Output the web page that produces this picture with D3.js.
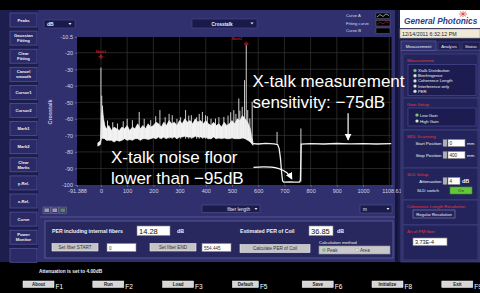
<!DOCTYPE html>
<html><head><meta charset="utf-8">
<script src="https://cdn.jsdelivr.net/npm/d3@7"></script>
<style>
html,body{margin:0;padding:0;background:#000;overflow:hidden;}
svg{display:block;font-family:"Liberation Sans",Arial,sans-serif;}
</style></head><body>
<div class="chart"></div>
<script>
// crosstalk trace (fiber length in m, level in dB)
const bandX   = [-12,-6,-2,2,6,10,15,20,30,40,50,60,70,80,90,100,110,120,130,140,150,160,170,180,190,200,210,220,230,240,250,260,270,280,290,300,310,320,330,340,350,360,370,380,390,400,410,420,430,440,450,460,470,480,490,500,510,520,530,540,550,560,570,575,580];
const bandTop = [-74.5,-74,-73,-58,-54,-60,-64,-66,-64,-67,-65,-66,-67,-65,-66,-64,-67,-65,-66,-63,-66,-64,-66,-63,-65,-64,-62,-63,-65,-62,-64,-61,-63,-62,-64,-61,-63,-60,-62,-61,-63,-60,-62,-61,-63,-61,-63,-64,-62,-64,-63,-65,-62,-64,-63,-61,-63,-60,-61,-58,-60,-62,-66,-71,-74];
const bandBot = [-76.5,-76,-75.5,-72,-71,-72,-72,-73,-73,-73,-74,-73,-73.5,-73,-72,-73,-72.5,-73,-72,-72,-73,-72,-72,-72.5,-72,-71.5,-72,-71,-72,-71,-72,-71,-71.5,-71,-72,-71,-71,-70.5,-71,-71,-71.5,-70.5,-71,-71,-71.5,-71,-72,-72,-71,-72,-71.5,-72,-71.5,-72,-72,-71.5,-72,-72,-72,-71.5,-72,-73,-74,-75,-76];
const spikeX    = [0,3,6,25,45,63,85,100,120,146,165,190,209,225,245,260,272,290,304,323,335,345,365,375,387,399,406,420,437,450,469,485,495,507,515,526,530,539,548,554.445,560,568,577,672,763];
const spikeTop  = [-29,-46,-52,-61,-62,-62.8,-61.5,-60,-60.8,-55.8,-60,-60.8,-58.4,-54.7,-59,-57,-57.8,-60,-59,-54.7,-58,-57.8,-59,-57,-55.8,-57.8,-58.4,-60,-59.8,-59,-58.8,-58,-56,-54.7,-57,-47.7,-55,-52.7,-36.6,-15.3,-54.7,-59.8,-49.7,-67.9,-65.8];
const spikeBase = [-72,-72,-72,-72,-72,-72,-72,-72,-72,-72,-72,-72,-72,-72,-72,-72,-72,-72,-72,-72,-72,-72,-72,-72,-72,-72,-72,-72,-72,-72,-72,-72,-72,-72,-72,-72,-72,-72,-72,-72,-72,-72,-74,-75,-98];
const tailX = [578,600,630,660,674,680,685,689,693,698,720,740,758,761,764,800,850,900,950,1000,1050,1108.61];
const tailY = [-75,-75.2,-74.8,-75.1,-75.5,-78,-84,-92,-97.5,-98.3,-98.2,-98.3,-98.2,-97,-75.3,-75,-75.2,-74.9,-75.1,-75,-75.2,-75];
const markX = [0, 554.445];
const markY = [-22.4, -14.7];
const markNames = ["Mark1", "Mark2"];
const markAnchor = ["middle", "end"];
const xTicks = [-91.388,0,100,200,300,400,500,600,700,800,900,1000,1108.61];
const xTickLabels = ["-91.388","0","100","200","300","400","500","600","700","800","900","1000","1108.61"];
const yTicks = [-10.5,-20,-30,-40,-50,-60,-70,-80,-90,-100];
const yTickLabels = ["-10.5","-20","-30","-40","-50","-60","-70","-80","-90","-100"];
const xGrid = [0,100,200,300,400,500,600,700,800,900,1000,1100];
const yGrid = [-20,-30,-40,-50,-60,-70,-80,-90];
const notes = ["X-talk measurement", "sensitivity: \u221275dB", "X-talk noise floor", "lower than \u221295dB"];
const noteX = [578, 578, 38, 38];
const noteY = [-40.8, -53.5, -86.9, -99.6];

const leftButtons = ["Peaks","Gaussian|Fitting","Clear|Fitting","Cancel|smooth","Cursor1","Cursor2","Mark1","Mark2","Clear|Marks","y-Rel.","x-Rel.","Curve","Power|Monitor",""];
const bottomButtons = ["About","Run","Load","Default","Save","Initialize","Exit"];
const bottomKeys = ["F1","F2","F3","F5","F6","F8","F9"];
const measOptions = ["Xtalk Distribution","Birefringence","Coherence Length","Interference only","PER"];
const gainOptions = ["Low Gain","High Gain"];

const W = 480, H = 293;
const svg = d3.select(".chart").append("svg").attr("width", W).attr("height", H);

function box(g, x, y, w, h, fill, stroke, sw) {
    return g.append("rect").attr("x", x).attr("y", y).attr("width", w).attr("height", h)
        .attr("fill", fill).attr("stroke", stroke || "none").attr("stroke-width", sw || 0.6);
}
function txt(g, x, y, s, o) {
    o = o || {};
    return g.append("text").attr("x", x).attr("y", y).text(s)
        .attr("font-size", o.size || 4.5)
        .attr("font-weight", o.weight || "bold")
        .attr("fill", o.fill || "#f2f2f8")
        .attr("text-anchor", o.anchor || "start")
        .attr("font-style", o.style || "normal");
}
function tri(g, cx, cy, s) {
    g.append("path").attr("d", `M${cx - s},${cy - s * 0.6}L${cx + s},${cy - s * 0.6}L${cx},${cy + s * 0.6}Z`).attr("fill", "#e6e6f0");
}
function radio(g, cx, cy, on) {
    g.append("circle").attr("cx", cx).attr("cy", cy).attr("r", 1.6)
        .attr("fill", on ? "#6fd16f" : "#e4e4ec").attr("stroke", "#777").attr("stroke-width", 0.3);
}

// background panels
box(svg, 0, 0, W, H, "#000");
box(svg, 0, 10, 38, 252, "#1e1e4e");
box(svg, 38, 10, 358, 252, "#30306e");
box(svg, 395, 10, 3, 252, "#15153c");
box(svg, 398, 10, 82, 252, "#1d1d4c");

// left button column
leftButtons.forEach((b, i) => {
    const cy = 20 + i * 18.1;
    box(svg, 10, cy - 7, 27, 14, "#2a2a66", "#5858a0", 0.7);
    const lines = b ? b.split("|") : [];
    lines.forEach((l, j) => {
        txt(svg, 23.5, cy + 1.6 + (j - (lines.length - 1) / 2) * 5, l, { size: 4.2, anchor: "middle" });
    });
});

// header controls
box(svg, 44, 20, 31, 8, "#1a1a4a", "#4a4a86");
txt(svg, 47, 26, "dB", { size: 5 });
tri(svg, 70, 24, 1.6);
box(svg, 192, 19, 65, 9, "#1a1a4a", "#4a4a86");
txt(svg, 222, 25.5, "Crosstalk", { size: 4.6, anchor: "middle" });
tri(svg, 252, 23.5, 1.6);

// legend
const legendNames = ["Curve A", "Fitting curve", "Curve B"];
const legendColors = ["#ffffff", "#e02020", null];
legendNames.forEach((n, i) => {
    const ly = 15.5 + i * 7.5;
    txt(svg, 346, ly + 1.5, n, { size: 4.2, weight: "normal", fill: "#dcdcec" });
    box(svg, 376, ly - 2.5, 14, 5.5, "#000", "#777", 0.4);
    if (legendColors[i]) {
        svg.append("path").attr("d", `M377,${ly + 1.5}L380,${ly - 1}L383,${ly + 1}L386,${ly - 1.5}L389,${ly}`)
            .attr("fill", "none").attr("stroke", legendColors[i]).attr("stroke-width", 0.6);
    }
});

// plot
const x = d3.scaleLinear().domain([-91.388, 1108.61]).range([77, 391.5]);
const y = d3.scaleLinear().domain([-100, -10.5]).range([185, 37]);
box(svg, 77, 37, 314.5, 148, "#000");
const defs = svg.append("defs");
defs.append("clipPath").attr("id", "plotClip")
    .append("rect").attr("x", 77).attr("y", 37).attr("width", 314.5).attr("height", 148);

const grid = svg.append("g").attr("stroke", "#3e3e3e").attr("stroke-width", 0.6);
grid.selectAll(".gx").data(xGrid).enter().append("line")
    .attr("x1", d => x(d)).attr("x2", d => x(d)).attr("y1", 37).attr("y2", 185);
grid.selectAll(".gy").data(yGrid).enter().append("line")
    .attr("y1", d => y(d)).attr("y2", d => y(d)).attr("x1", 77).attr("x2", 391.5);

const plot = svg.append("g").attr("clip-path", "url(#plotClip)");
const idx = d3.range(bandX.length);
plot.append("path").datum(idx)
    .attr("d", d3.area().x(i => x(bandX[i])).y0(i => y(bandBot[i])).y1(i => y(bandTop[i])))
    .attr("fill", "#f2f2f2").attr("stroke", "#ffffff").attr("stroke-width", 0.6);
plot.selectAll(".spike").data(d3.range(spikeX.length)).enter().append("line")
    .attr("x1", i => x(spikeX[i])).attr("x2", i => x(spikeX[i]))
    .attr("y1", i => y(spikeBase[i])).attr("y2", i => y(spikeTop[i]))
    .attr("stroke", "#e8e8e8").attr("stroke-width", 0.9);
plot.append("path").datum(d3.range(tailX.length))
    .attr("d", d3.line().x(i => x(tailX[i])).y(i => y(tailY[i])))
    .attr("fill", "none").attr("stroke", "#f0f0f0").attr("stroke-width", 1.3);

// marks
markX.forEach((mx, i) => {
    const px = x(mx), py = y(markY[i]);
    const mg = svg.append("g").attr("stroke", "#e02424").attr("stroke-width", 0.5).attr("fill", "none");
    mg.append("line").attr("x1", px - 2.5).attr("x2", px + 2.5).attr("y1", py).attr("y2", py);
    mg.append("line").attr("x1", px).attr("x2", px).attr("y1", py - 2.5).attr("y2", py + 2.5);
    mg.append("circle").attr("cx", px).attr("cy", py).attr("r", 1.3);
    const lx = markAnchor[i] === "end" ? px - 4 : px;
    txt(svg, lx, py - 4, markNames[i], { size: 3.8, fill: "#e42a2a", anchor: markAnchor[i], weight: "normal" });
});

// axes
const yAxis = svg.append("g").attr("transform", "translate(77,0)")
    .call(d3.axisLeft(y).tickValues(yTicks).tickFormat((d, i) => yTickLabels[i]).tickSize(2).tickPadding(2));
const xAxis = svg.append("g").attr("transform", "translate(0,185)")
    .call(d3.axisBottom(x).tickValues(xTicks).tickFormat((d, i) => xTickLabels[i]).tickSize(2).tickPadding(2.5));
[yAxis, xAxis].forEach(a => {
    a.select(".domain").remove();
    a.selectAll(".tick line").attr("stroke", "#9a9ac4").attr("stroke-width", 0.5);
    a.selectAll(".tick text").attr("fill", "#d4d4e4").attr("font-size", 5.5)
        .attr("font-family", "'Liberation Sans',Arial,sans-serif");
});
svg.append("text").attr("transform", "translate(51.5,112) rotate(-90)")
    .attr("text-anchor", "middle").attr("font-size", 5.5).attr("font-weight", "bold")
    .attr("fill", "#c8c8dc").text("Crosstalk");

// controls under the plot
[43, 51, 59].forEach((ix, i) => {
    box(svg, ix, 207, 7.5, 6.5, "#3c3c6c", "#8a8aaa", 0.4);
    box(svg, ix + 1.5, 208.5, 4.5, 3.5, i === 2 ? "#5a8a5a" : "#9a9ab4");
});
box(svg, 202, 205, 58, 7.5, "#1c1c4c", "#55558a");
txt(svg, 250, 210.5, "fiber length", { size: 4.6, anchor: "end", weight: "normal" });
tri(svg, 256, 209, 1.5);
box(svg, 360, 205, 32, 8, "#1c1c4c", "#55558a");
txt(svg, 363, 211, "m", { size: 4.6, weight: "normal" });
tri(svg, 388, 209, 1.5);
svg.append("line").attr("x1", 40).attr("x2", 395).attr("y1", 217).attr("y2", 217).attr("stroke", "#6060a0").attr("stroke-width", 0.8);
box(svg, 45, 221, 348, 37, "#28285f", "#6a6aa8", 0.7);

txt(svg, 52, 233, "PER including  internal fibers", { size: 5.2 });
box(svg, 137, 226, 33, 9.5, "#ffffff", "#888");
txt(svg, 139, 233.8, "14.28", { size: 7.5, weight: "normal", fill: "#111" });
txt(svg, 177, 233, "dB", { size: 5.2 });
txt(svg, 240, 233, "Estimated PER of Coil", { size: 5.2 });
box(svg, 309, 226, 24, 9.5, "#ffffff", "#888");
txt(svg, 311, 233.8, "36.85", { size: 7.5, weight: "normal", fill: "#111" });
txt(svg, 337, 233, "dB", { size: 5.2 });

function greyButton(x0, y0, w, h, s, size) {
    box(svg, x0, y0, w, h, "#c4c4c8", "#eeeeee", 0.6);
    txt(svg, x0 + w / 2, y0 + h / 2 + 1.7, s, { size: size || 4.6, anchor: "middle", weight: "normal", fill: "#333" });
}
greyButton(52, 243.5, 46, 7.5, "Set fiber START");
box(svg, 107, 243.5, 29, 8, "#ffffff", "#888");
txt(svg, 109, 249.5, "0", { size: 4.6, weight: "normal", fill: "#333" });
greyButton(150, 243.5, 46, 7.5, "Set fiber END");
box(svg, 202, 243.5, 29, 8, "#ffffff", "#888");
txt(svg, 204, 249.5, "554.445", { size: 4.6, weight: "normal", fill: "#333" });
greyButton(240, 244.5, 70, 8, "Calculate  PER of Coil");
txt(svg, 319, 243.5, "Calculation method", { size: 4.4, weight: "normal" });
box(svg, 319, 246, 71, 8, "#c8c8cc", "#999");
radio(svg, 324, 250, true);
txt(svg, 327, 251.7, "Peak", { size: 4.6, weight: "normal", fill: "#333" });
radio(svg, 357, 250, false);
txt(svg, 360, 251.7, "Area", { size: 4.6, weight: "normal", fill: "#333" });

// right panel: logo, date, tabs
box(svg, 400, 10, 80, 18, "#ffffff");
txt(svg, 404, 24, "General Photonics", { size: 8.3, style: "italic", fill: "#27408e" });
const star = svg.append("g").attr("stroke", "#d42020").attr("stroke-width", 0.6);
[[-4, 0, 4, 0], [0, -3, 0, 3], [-3, -2.5, 3, 2.5], [-3, 2.5, 3, -2.5]].forEach(s => {
    star.append("line").attr("x1", 463 + s[0]).attr("y1", 14 + s[1]).attr("x2", 463 + s[2]).attr("y2", 14 + s[3]);
});
box(svg, 400, 29, 80, 9, "#efe9d5", "#999");
txt(svg, 402, 35.8, "12/14/2011 6:32:12 PM", { size: 5.3, weight: "normal", fill: "#222" });
box(svg, 401, 50, 79, 212, "#2a2a64", "#55559a", 0.6);
box(svg, 401, 41, 35, 9.5, "#30306e", "#6a6aa8");
txt(svg, 418.5, 47.5, "Measurement", { size: 4.2, anchor: "middle", weight: "normal" });
box(svg, 438, 42, 22, 8, "#1e1e52", "#4a4a88");
txt(svg, 449, 47.5, "Analysis", { size: 4.2, anchor: "middle", weight: "normal" });
box(svg, 462, 42, 18, 8, "#1e1e52", "#4a4a88");
txt(svg, 471, 47.5, "Status", { size: 4.2, anchor: "middle", weight: "normal" });

const secs = [[54, 98, "Measurement"], [98, 130, "Gain Setup"], [130, 168, "MDL Scanning"],
    [168, 200, "SLD Setup"], [200, 225, "Coherence Length Resolution"], [225, 260, "\u0394n of PM fiber"]];
secs.forEach(s => {
    box(svg, 403, s[0], 75, s[1] - s[0], "#24245c", "#4a4a8e", 0.6);
    txt(svg, 407, s[0] + 8, s[2], { size: 4.4, weight: "normal", fill: "#e8383a" });
});
box(svg, 408, 64.5, 68, 31, "#1c1c50", "#5050a0");
measOptions.forEach((m, i) => {
    radio(svg, 415, 70.5 + i * 5.2, i === 0);
    txt(svg, 418, 72 + i * 5.2, m, { size: 4.2, weight: "normal" });
});
box(svg, 408, 108, 68, 18, "#1c1c50", "#5050a0");
gainOptions.forEach((m, i) => {
    radio(svg, 417, 115 + i * 6, i === 0);
    txt(svg, 420, 116.5 + i * 6, m, { size: 4.2, weight: "normal" });
});
function spinRow(cy, lab, val, unit, bw) {
    txt(svg, 441.5, cy + 1.5, lab, { size: 4.4, weight: "normal", anchor: "end" });
    box(svg, 443, cy - 3.5, 4, 7, "#b0b0b8", "#777", 0.3);
    box(svg, 448, cy - 3.5, bw, 7, "#ffffff", "#888");
    txt(svg, 449.5, cy + 1.6, val, { size: 4.6, weight: "normal", fill: "#222" });
    txt(svg, 450 + bw, cy + 1.6, unit, unit === "dB" ? { size: 5.5 } : { size: 4.4, weight: "normal" });
}
spinRow(143, "Start Position", "0", "mm", 17);
spinRow(155, "Stop Position", "400", "mm", 17);
spinRow(181, "Attenuation", "4", "dB", 12);
txt(svg, 417, 191.5, "SLD switch", { size: 4.4, weight: "normal" });
box(svg, 450, 187, 22, 7, "#62c83a", "#3e8a22");
txt(svg, 461, 192.2, "On", { size: 4.4, weight: "normal", anchor: "middle", fill: "#1e3a10" });
box(svg, 413, 210, 42, 8, "#26265e", "#8888bb");
txt(svg, 434, 215.6, "Regular Resolution", { size: 4.2, weight: "normal", anchor: "middle" });
box(svg, 413, 238, 34, 7.5, "#ffffff", "#888");
txt(svg, 415, 244, "3.73E-4", { size: 5.4, weight: "normal", fill: "#111" });

// bottom status and function keys
txt(svg, 39, 273, "Attenuation is set to 4.00dB", { size: 4.8 });
bottomButtons.forEach((b, i) => {
    const bx = 23 + i * 69.8;
    const bw = b === "Default" ? 26 : 31;
    box(svg, bx, 281, bw, 6.5, "#d6d6d6", "#f4f4f4", 0.5);
    txt(svg, bx + bw / 2, 286, b, { size: 4.5, anchor: "middle", fill: "#1a1a1a" });
    txt(svg, bx + bw + 1.5, 288.5, bottomKeys[i], { size: 6.5, weight: "normal", fill: "#ffffff" });
});

// annotations (drawn last, they overlap the right panel edge as in the screenshot)
notes.forEach((n, i) => {
    svg.append("text").attr("x", x(noteX[i])).attr("y", y(noteY[i])).text(n)
        .attr("font-size", 17).attr("fill", "#ffffff")
        .attr("font-family", "'Liberation Sans',Arial,sans-serif");
});
defs.append("marker").attr("id", "head").attr("markerUnits", "userSpaceOnUse")
    .attr("markerWidth", 7).attr("markerHeight", 7).attr("refX", 6).attr("refY", 3.5).attr("orient", "auto")
    .append("path").attr("d", "M0,0L7,3.5L0,7Z").attr("fill", "#fff");
const a1 = d3.path();
a1.moveTo(x(582), y(-89.3));
a1.bezierCurveTo(x(660), y(-88.5), x(705), y(-89.5), x(728), y(-96.3));
svg.append("path").attr("d", a1.toString()).attr("fill", "none").attr("stroke", "#fff")
    .attr("stroke-width", 1.2).attr("marker-end", "url(#head)");
svg.append("line").attr("x1", x(943)).attr("x2", x(943)).attr("y1", y(-56.6)).attr("y2", y(-72.6))
    .attr("stroke", "#fff").attr("stroke-width", 1.2).attr("marker-end", "url(#head)");
</script>
</body></html>
